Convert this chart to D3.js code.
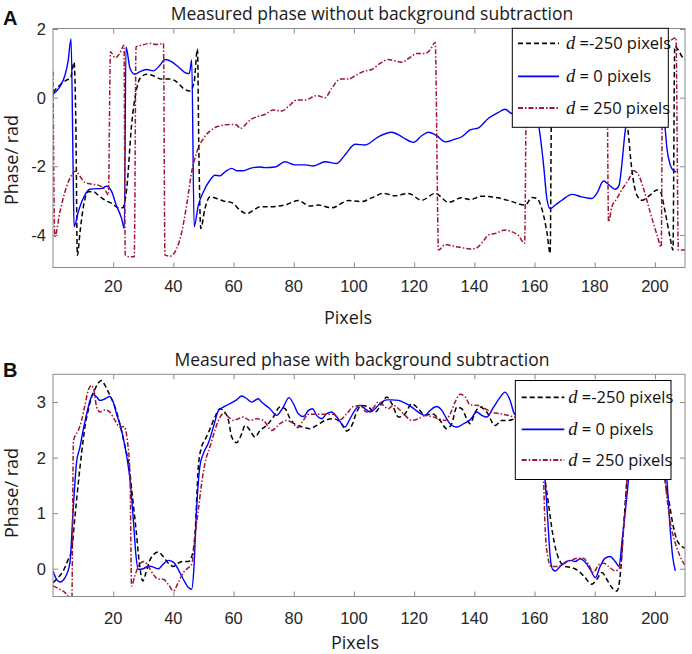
<!DOCTYPE html>
<html lang="en">
<head>
<meta charset="UTF-8">
<title>Measured phase</title>
<script src="https://d3js.org/d3.v7.min.js"></script>
<style>
  body { margin: 0; background: #fff; }
  svg { display: block; }
  .tick-label { font-family: "Liberation Sans", Arial, sans-serif; font-size: 16.5px; fill: #262626; }
  .label { font-family: "Open Sans", sans-serif; font-size: 18px; fill: #1a1a1a; }
  .title { font-family: "Open Sans", sans-serif; font-size: 17.5px; fill: #1a1a1a; }
  .panel-tag { font-family: "Liberation Sans", Arial, sans-serif; font-size: 20px; font-weight: bold; fill: #111; }
  .legend-text { font-family: "Open Sans", sans-serif; font-size: 16.5px; fill: #111; white-space: pre; }
</style>
</head>
<body>
<svg width="692" height="654"></svg>
<script>
// ticks and labels
const xTicks = [20, 40, 60, 80, 100, 120, 140, 160, 180, 200];
const aYTicks = [-4, -2, 0, 2];
const bYTicks = [0, 1, 2, 3];
const seriesNames = [" =-250 pixels", " = 0 pixels", " = 250 pixels"];

// panel A: phase without background subtraction, [pixel, rad]
const aNeg = [[0,0.15],[2.3,0.37],[4.5,0.51],[5.8,0.56],[7,1.03],[7.6,-0.8],[8.1,-4.6],[9,-3.9],[10,-3.23],[11.7,-2.74],
  [13.4,-2.74],[15,-2.84],[17.3,-2.99],[19.5,-3.08],[21.7,-3.21],[23.1,-3.21],[24.5,-2.65],[26.1,-0.8],[27.6,0.17],[28.9,0.56],
  [31.1,0.68],[33.3,0.64],[36.1,0.54],[38.9,0.54],[41.1,0.46],[43.3,0.27],[45.5,0.19],[46.9,0.46],[48,1.42],[48.5,-1.77],
  [49.1,-3.81],[50.5,-3.23],[52.2,-2.89],[54.4,-2.94],[56.6,-3.01],[59.4,-3.06],[62.2,-3.28],[64.4,-3.38],[66.6,-3.28],[68.8,-3.18],
  [71.5,-3.18],[77.1,-3.13],[81.5,-3.0],[85.4,-3.16],[88.2,-3.13],[92.6,-3.21],[98.2,-3.0],[102.6,-3.03],[105.9,-2.92],[109.8,-2.79],
  [113.7,-2.86],[118.1,-2.79],[122.5,-2.99],[127,-2.79],[131.4,-3.05],[135.8,-2.92],[138.6,-2.97],[142.5,-2.87],[148,-2.92],[152.5,-3.03],
  [156.9,-3.13],[159.1,-2.91],[160.8,-2.94],[162.4,-3.23],[164.1,-3.91],[165.2,-4.54],[165.7,0.3],[170,0.9],[180,0.8],[188,0.4],
  [190,-0.2],[191,-0.9],[192.3,-2.07],[194,-2.84],[195.7,-2.99],[198.4,-2.84],[200.7,-2.69],[201.8,-2.74],[203.4,-3.33],[205.1,-4.1],
  [206,-4.44],[206.6,1.5],[208,1.35],[209,1.2],[210,1.1]];
const aZero = [[0,0.1],[2.3,0.32],[4,0.66],[5,1.05],[6,1.71],[6.7,-2.16],[7,-3.76],[8.4,-3.33],[10,-2.94],[12.3,-2.67],
  [14.5,-2.65],[16,-2.65],[17.8,-2.58],[19.5,-2.74],[21,-3.13],[22.8,-3.52],[23.7,-3.81],[24.25,1.48],[25.6,0.85],[27.2,0.68],
  [28.9,0.76],[31.1,0.82],[33.3,0.78],[35.6,0.95],[37.2,1.11],[39.4,1.05],[41.6,0.9],[44.4,0.71],[45.3,0.7],[46.1,1.1],
  [46.9,-3.76],[48.3,-3.13],[50,-2.74],[52.2,-2.4],[53.8,-2.26],[55.5,-2.28],[57.2,-2.16],[59.4,-2.06],[61,-2.13],[63.3,-2.13],
  [65.5,-2.06],[68.6,-2.02],[70.4,-2.04],[73.8,-2.02],[77.1,-1.87],[80.4,-1.96],[83.7,-1.96],[86.5,-1.99],[90.4,-1.87],[94.3,-1.92],
  [97,-1.67],[100.4,-1.36],[103.7,-1.38],[108.1,-1.14],[112.6,-1.01],[115.9,-1.14],[119.8,-1.3],[122.5,-1.11],[124.7,-1.01],[127.5,-1.11],
  [130.3,-1.29],[133.6,-1.21],[135.8,-1.14],[138.6,-0.94],[141.4,-0.88],[144.7,-0.6],[148,-0.43],[150.2,-0.34],[152.5,-0.46],[156,-0.35],
  [160,-0.45],[161.5,-0.88],[163,-1.96],[164.1,-2.94],[165.2,-3.23],[166.9,-3.13],[169.1,-2.99],[172.4,-2.82],[175.7,-2.89],[179,-2.94],
  [180.7,-2.79],[182.9,-2.43],[184.6,-2.53],[186.8,-2.67],[188.1,-2.55],[189,-1.96],[190.1,-0.99],[193,0.0],[198,0.2],[202.5,-0.3],
  [203.4,-0.9],[204,-1.48],[205.1,-1.96],[206.2,-2.13],[207,-2.16]];
const aPos = [[0,0.76],[0.6,-4.05],[2.3,-3.33],[4,-2.74],[5.6,-2.35],[7.6,-2.14],[9,-2.3],[10.6,-2.47],[12.8,-2.52],[15,-2.55],
  [17.3,-2.69],[18.4,-2.84],[19.1,1.34],[20.6,1.16],[22.2,1.29],[23.6,1.53],[24,-4.59],[25.6,-4.64],[27,-4.64],[27.6,1.48],
  [29.5,1.53],[32.2,1.58],[34.4,1.55],[36.7,1.58],[37.2,-4.59],[38.9,-4.62],[41.1,-4.4],[42.8,-3.91],[44.4,-3.13],[46.1,-2.16],
  [47.8,-1.58],[50,-1.19],[52.2,-0.97],[54.4,-0.85],[56.6,-0.8],[58.8,-0.78],[61,-0.8],[62.2,-0.9],[63.8,-0.8],[65.5,-0.65],
  [67.7,-0.56],[70.4,-0.49],[73.2,-0.36],[76,-0.39],[78.2,-0.26],[81,-0.07],[83.7,-0.07],[87.6,0.06],[90.4,0],[92.6,0.27],
  [95.4,0.54],[98.2,0.54],[100.4,0.64],[103.7,0.78],[105.9,0.82],[108.7,1.0],[111.4,1.11],[113.7,1.07],[115.9,1.03],[118.6,1.17],
  [120.9,1.29],[123.6,1.29],[125.3,1.39],[127,1.61],[128.1,-4.44],[130.3,-4.28],[132.5,-4.32],[135.8,-4.37],[138.6,-4.41],[140.3,-4.4],
  [143,-4.18],[144.7,-4.0],[146.9,-3.96],[150.2,-3.86],[152.5,-3.91],[154.7,-4.02],[156.7,-4.25],[157.4,1.0],[165,1.2],[175,1.4],
  [184,1.2],[184.6,-3.62],[185.7,-3.18],[187.4,-2.94],[189,-2.69],[191.2,-2.4],[192.9,-2.13],[194.6,-2.26],[196.2,-2.65],[198.4,-3.33],
  [200.7,-4.0],[202.1,-4.35],[202.6,1.5],[205,1.65],[207,1.75],[207.8,-4.44],[210,-4.44]];

// panel B: phase with background subtraction, [pixel, rad]
const bNeg = [[0,-0.25],[1.7,-0.16],[3.4,-0.04],[5,0.16],[6.2,0.34],[7.3,0.94],[8.4,1.54],[9.5,2.08],[10.6,2.55],[11.7,2.85],
  [12.8,3.09],[14,3.24],[15,3.34],[16.1,3.39],[17.3,3.3],[18.9,3.12],[20.6,2.91],[22.2,2.61],[23.9,2.2],[25.3,1.84],
  [26.4,1.3],[27.6,0.7],[28.7,0.1],[29.8,-0.22],[30.9,-0.07],[32,0.13],[33.3,0.25],[35,0.3],[36.6,0.22],[38.3,0.1],
  [40,0.04],[41.6,0.1],[43.3,0.13],[45,0.13],[46.1,0.22],[47.2,0.64],[48.3,1.84],[49.4,2.2],[50.5,2.32],[52.2,2.52],
  [53.8,2.73],[55.5,2.88],[57.1,2.82],[58.3,2.67],[59.4,2.37],[61,2.27],[62.7,2.43],[63.8,2.58],[65.5,2.49],[67.1,2.37],
  [68.8,2.49],[71,2.58],[73.2,2.73],[75.4,2.91],[77.1,2.88],[78.8,2.7],[81,2.58],[83.2,2.55],[85.4,2.52],[87.6,2.58],
  [90.4,2.67],[93.2,2.7],[95.4,2.64],[97.6,2.48],[99.3,2.58],[100.9,2.82],[102.6,2.94],[104.8,2.91],[107,2.82],[109.2,2.97],
  [110.9,3.09],[112.6,2.97],[114.8,2.73],[117,2.79],[119.2,2.97],[121.4,2.88],[123.6,2.76],[125.9,2.79],[128.6,2.67],[130.8,2.52],
  [132.5,2.61],[134.2,2.91],[135.8,2.88],[137.5,2.7],[138.6,2.61],[140.3,2.82],[141.9,2.91],[144.1,2.82],[146.9,2.58],[149.1,2.67],
  [151.3,2.67],[154,2.7],[158,2.7],[162,2.3],[163.5,1.6],[164.6,1.18],[166,0.64],[167.1,0.34],[168.5,0.13],[170.2,0.04],
  [172.4,0.02],[174.6,-0.04],[176.8,-0.16],[179,-0.28],[180.7,-0.19],[182.4,-0.07],[184,-0.19],[185.7,-0.34],[187.4,-0.4],[188.5,-0.1],
  [189.6,0.76],[190.7,1.6],[192,2.5],[195,2.8],[200,2.8],[202.5,2.3],[203.4,1.6],[204.8,1.18],[205.9,0.82],[207.3,0.52],
  [209,0.4],[210,0.37]];
const bZero = [[0,-0.04],[1.2,-0.19],[2.3,-0.24],[4,-0.16],[5.6,0.1],[6.7,1.06],[7.8,1.9],[9,2.2],[10,2.49],[11.2,2.79],
  [12.3,3.03],[13.4,3.14],[14.5,3.09],[15.6,3.03],[17.3,3.06],[18.9,3.1],[20,3.0],[21.1,2.79],[22.8,2.49],[24.5,2.02],
  [25.6,1.6],[26.7,0.88],[27.6,0.22],[28.3,-0.01],[30,0],[31.7,0.05],[33.3,0.03],[35,0],[36.6,0.08],[38.3,0.15],
  [40,0.12],[41.6,-0.01],[43.3,-0.19],[45,-0.34],[46.1,-0.37],[46.8,-0.01],[47.7,1.06],[48.8,1.84],[50,2.08],[51.6,2.26],
  [53.3,2.55],[55,2.85],[56.6,2.91],[58.8,2.97],[61,3.04],[62.7,3.11],[64.4,3.06],[66,3.0],[68.2,3.06],[69.3,3.0],
  [72.1,2.88],[74.3,2.76],[76.5,2.91],[78.4,3.08],[79.9,2.97],[81.5,2.79],[83.2,2.74],[84.9,2.85],[86.2,2.88],[87.6,2.76],
  [89.3,2.7],[90.9,2.79],[92.6,2.82],[94.3,2.73],[95.9,2.61],[97,2.55],[98.7,2.7],[100.4,2.86],[102,2.94],[103.7,2.88],
  [105.4,2.82],[107,2.88],[109.2,3.0],[110.9,3.04],[112.6,3.04],[114.8,3.03],[117,2.98],[119.2,2.91],[121.4,2.82],[123.6,2.76],
  [125.3,2.85],[127.5,2.92],[129.2,2.85],[130.8,2.7],[132.5,2.58],[134.2,2.55],[136.4,2.61],[138.6,2.68],[140.8,2.82],[142.5,2.76],
  [144.1,2.73],[146.4,2.91],[148.6,3.09],[150.2,3.18],[151.9,3.03],[153.3,2.79],[156,2.7],[160,2.6],[162.5,2.2],[163.5,1.6],
  [164.4,0.88],[165.2,0.22],[166,-0.01],[166.9,-0.04],[168.5,0.04],[170.2,0.12],[171.9,0.15],[173.5,0.13],[175.2,0.18],[176.8,0.12],
  [178.5,-0.01],[180.2,-0.16],[181.8,0.04],[183.5,0.19],[185.1,0.22],[186.8,0.13],[188.1,0.04],[189,0.46],[190.1,1.0],[191.2,1.6],
  [192.5,2.5],[195,2.8],[200,2.8],[203,2.3],[204,1.6],[204.5,1.18],[205.1,0.7],[205.9,0.22],[206.8,-0.04]];
const bPos = [[0,-0.31],[2.3,-0.37],[4,-0.43],[5,-0.5],[5.8,-0.8],[6.2,-0.8],[6.8,2.31],[8.4,2.49],[9.5,2.67],[10.6,2.94],
  [11.7,3.21],[12.8,3.3],[13.6,3.21],[14.5,2.91],[15.6,2.82],[17.3,2.86],[18.9,2.82],[20.6,2.67],[22.2,2.55],[23.6,2.56],
  [24.7,2.31],[25.6,1.66],[26.1,-0.31],[27.2,-0.13],[28.7,0.08],[30.2,0.13],[31.7,0.04],[33.3,-0.1],[35,-0.19],[36.6,-0.19],
  [38.3,-0.28],[40,-0.4],[41.6,-0.25],[43.3,-0.07],[45,0.02],[46.1,0.08],[47.2,0.58],[48.3,1.06],[49.4,1.54],[50.5,1.9],
  [52.2,2.2],[53.8,2.49],[55.5,2.73],[56.8,2.8],[58.3,2.73],[59.9,2.67],[61.6,2.7],[63.2,2.73],[65.5,2.67],[67.7,2.7],
  [69.9,2.67],[72.7,2.49],[75.4,2.61],[77.6,2.67],[79.9,2.61],[81.3,2.54],[83.2,2.67],[84.9,2.78],[87.6,2.78],[90.4,2.78],
  [93.2,2.78],[95.4,2.68],[97.6,2.79],[99.8,2.92],[102,2.94],[104.2,2.82],[106.5,2.9],[108.1,3.0],[109.8,2.94],[111.4,2.88],
  [113.1,2.94],[114.8,2.88],[117,2.76],[119.2,2.67],[121.4,2.7],[123.6,2.76],[125.9,2.74],[128.1,2.7],[130.3,2.67],[132,2.79],
  [133.6,3.0],[135.3,3.14],[137,3.09],[138.6,2.95],[141.4,2.94],[143.6,2.88],[145.8,2.82],[148.6,2.79],[151.3,2.76],[153.3,2.73],
  [157,2.7],[161,2.5],[162.5,2.0],[163,1.6],[163.5,0.76],[164.4,0.22],[165.5,0.04],[167.4,0.04],[169.1,0.07],[170.7,0.12],
  [172.4,0.16],[174.6,0.19],[176.3,0.19],[178,0.07],[179.6,-0.07],[181.3,0.07],[183,0.1],[184.6,0.04],[186.8,-0.04],[188.5,0.04],
  [189.6,0.7],[190.7,1.6],[192,2.5],[195,2.8],[200,2.8],[202.5,2.2],[203.4,1.6],[204.5,1.06],[205.6,0.7],[206.8,0.46],
  [208.4,0.22],[209.9,0.07]];

const colors = ["#000000", "#0000ff", "#a2142f"];
const dashes = ["5,3", null, "5,2,1.5,2"];
const widths = [1.5, 1.4, 1.5];

const svg = d3.select("svg");

function drawPanel(p) {
    const g = svg.append("g");
    const x = d3.scaleLinear().domain([0, 210]).range([53, 685]);
    const y = d3.scaleLinear().domain(p.yDomain).range([p.bottom, p.top]);

    // clip the traces to the axes box
    g.append("clipPath").attr("id", p.id)
        .append("rect")
        .attr("x", x.range()[0]).attr("y", p.top)
        .attr("width", x.range()[1] - x.range()[0]).attr("height", p.bottom - p.top);

    const line = d3.line()
        .x(d => x(d[0]))
        .y(d => y(d[1]))
        .curve(d3.curveMonotoneX);

    p.series.forEach((s, i) => {
        g.append("path")
            .attr("clip-path", `url(#${p.id})`)
            .attr("d", line(s))
            .attr("fill", "none")
            .attr("stroke", colors[i])
            .attr("stroke-width", widths[i])
            .attr("stroke-dasharray", dashes[i]);
    });

    // box with inward ticks on all four sides
    const axisColor = "#8a8a8a";
    const axes = [
        d3.axisBottom(x).tickValues(xTicks).tickSize(-5).tickFormat(""),
        d3.axisTop(x).tickValues(xTicks).tickSize(-5).tickFormat(""),
        d3.axisLeft(y).tickValues(p.yTicks).tickSize(-5).tickFormat(""),
        d3.axisRight(y).tickValues(p.yTicks).tickSize(-5).tickFormat("")
    ];
    const shifts = [[0, p.bottom], [0, p.top], [53, 0], [685, 0]];
    axes.forEach((a, i) => {
        const ag = g.append("g").attr("transform", `translate(${shifts[i][0]},${shifts[i][1]})`).call(a);
        ag.select(".domain").remove();
        ag.selectAll("line").attr("stroke", axisColor);
    });
    g.append("rect")
        .attr("x", 53).attr("y", p.top)
        .attr("width", 632).attr("height", p.bottom - p.top)
        .attr("fill", "none").attr("stroke", axisColor).attr("stroke-width", 1);

    g.selectAll(".xl").data(xTicks).enter().append("text")
        .attr("class", "tick-label")
        .attr("x", d => x(d)).attr("y", p.xLabelY)
        .attr("text-anchor", "middle")
        .text(d => d);
    g.selectAll(".yl").data(p.yTicks).enter().append("text")
        .attr("class", "tick-label")
        .attr("x", 46).attr("y", d => y(d) + 6)
        .attr("text-anchor", "end")
        .text(d => d);

    g.append("text").attr("class", "title")
        .attr("x", p.titleX).attr("y", p.titleY)
        .attr("text-anchor", "middle").text(p.title);
    g.append("text").attr("class", "label")
        .attr("x", p.pixelsX).attr("y", p.pixelsY)
        .attr("text-anchor", "middle").text("Pixels");
    g.append("text").attr("class", "label")
        .attr("transform", `translate(18,${p.yLabelY}) rotate(-90)`)
        .attr("text-anchor", "middle").text("Phase/ rad");
    g.append("text").attr("class", "panel-tag")
        .attr("x", 3).attr("y", p.tagY).text(p.tag);

    // legend
    const lg = g.append("g");
    lg.append("rect")
        .attr("x", p.legend.x).attr("y", p.legend.y)
        .attr("width", p.legend.w).attr("height", p.legend.h)
        .attr("fill", "#fff").attr("stroke", "#000").attr("stroke-width", 1);
    seriesNames.forEach((name, i) => {
        const ry = p.legend.rows[i];
        lg.append("line")
            .attr("x1", p.legend.lineX[0]).attr("x2", p.legend.lineX[1])
            .attr("y1", ry).attr("y2", ry)
            .attr("stroke", colors[i]).attr("stroke-width", widths[i] + 0.3)
            .attr("stroke-dasharray", dashes[i]);
        const t = lg.append("text").attr("class", "legend-text")
            .attr("x", p.legend.textX).attr("y", ry + 6);
        t.append("tspan")
            .style("font-family", "'Liberation Serif', 'DejaVu Serif', serif")
            .style("font-style", "italic").style("font-size", "18.5px")
            .text("d");
        t.append("tspan").text(name);
    });
}

drawPanel({
    id: "clipA", top: 28.5, bottom: 267.5, yDomain: [-4.95, 2.015], yTicks: aYTicks,
    series: [aNeg, aZero, aPos], xLabelY: 292,
    title: "Measured phase without background subtraction", titleX: 372, titleY: 19.5,
    pixelsX: 348, pixelsY: 323.5, yLabelY: 160, tag: "A", tagY: 25,
    legend: { x: 512.3, y: 28.3, w: 156, h: 99, rows: [43.3, 76.3, 108], lineX: [518, 559], textX: 566 }
});

drawPanel({
    id: "clipB", top: 374.3, bottom: 596.5, yDomain: [-0.5, 3.5], yTicks: bYTicks,
    series: [bNeg, bZero, bPos], xLabelY: 623.5,
    title: "Measured phase with background subtraction", titleX: 362, titleY: 366,
    pixelsX: 355, pixelsY: 648.5, yLabelY: 493, tag: "B", tagY: 377,
    legend: { x: 515.3, y: 380.5, w: 155.7, h: 99, rows: [397.3, 429.3, 460], lineX: [521.7, 564.3], textX: 568.3 }
});
</script>
</body>
</html>
